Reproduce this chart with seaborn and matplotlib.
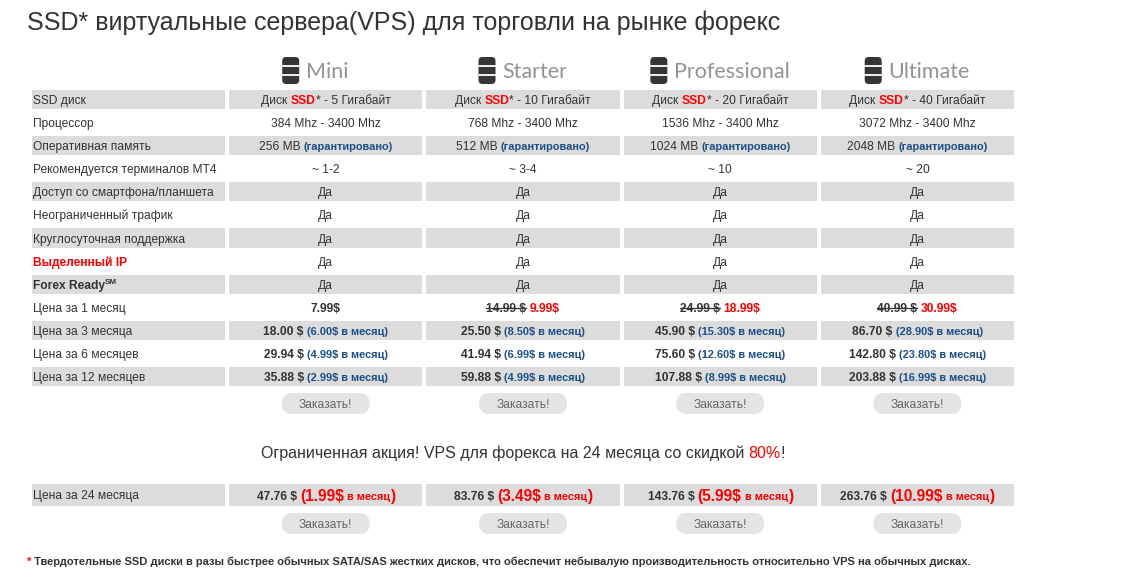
import matplotlib
matplotlib.use('Agg')
import matplotlib.pyplot as plt
from matplotlib.colors import ListedColormap
from matplotlib.patches import FancyBboxPatch
from matplotlib.font_manager import FontProperties
import seaborn as sns
import numpy as np

# ---- data ----
plans = ['Mini', 'Starter', 'Professional', 'Ultimate']
row_labels = ['SSD диск', 'Процессор', 'Оперативная память', 'Рекомендуется терминалов МТ4',
              'Доступ со смартфона/планшета', 'Неограниченный трафик', 'Круглосуточная поддержка',
              'Выделенный IP', 'Forex Ready', 'Цена за 1 месяц', 'Цена за 3 месяца',
              'Цена за 6 месяцев', 'Цена за 12 месяцев']
disk_gb = [5, 10, 20, 40]
cpu_mhz = [384, 768, 1536, 3072]
cpu_max = 3400
ram_mb = [256, 512, 1024, 2048]
mt4_terminals = ['1-2', '3-4', '10', '20']
yes_text = 'Да'
price_1m_old = [None, 14.99, 24.99, 40.99]
price_1m = [7.99, 9.99, 18.99, 30.99]
price_3m = [18.00, 25.50, 45.90, 86.70]
per_month_3m = [6.00, 8.50, 15.30, 28.90]
price_6m = [29.94, 41.94, 75.60, 142.80]
per_month_6m = [4.99, 6.99, 12.60, 23.80]
price_12m = [35.88, 59.88, 107.88, 203.88]
per_month_12m = [2.99, 4.99, 8.99, 16.99]
price_24m = [47.76, 83.76, 143.76, 263.76]
per_month_24m = [1.99, 3.49, 5.99, 10.99]
discount = 80

title = 'SSD* виртуальные сервера(VPS) для торговли на рынке форекс'
promo = 'Ограниченная акция! VPS для форекса на 24 месяца со скидкой '
footnote = (' Твердотельные SSD диски в разы быстрее обычных SATA/SAS жестких дисков, что обеспечит '
            'небывалую производительность относительно VPS на обычных дисках.')
order_text = 'Заказать!'

# ---- look ----
W, H = 1141, 577
PX = 0.72  # pixel -> point at dpi 100
DARK, RED, BLUE, GRAY = '#333333', '#ff0000', '#1b4f8a', '#dcdcdc'
FAM = ['Liberation Sans', 'DejaVu Sans']

sns.set_style('white')
plt.rcParams['font.family'] = FAM

fig = plt.figure(figsize=(W / 100, H / 100), dpi=100)
renderer = fig.canvas.get_renderer()

# table geometry in pixels
tx, ty, tw, row_h = 30, 88, 986, 23.08
ncol = 5
cw = tw / ncol


def fig_rect(x, y, w, h):
    return [x / W, 1 - (y + h) / H, w / W, h / H]


# striped main table
grid = fig.add_axes(fig_rect(tx, ty, tw, row_h * len(row_labels)))
stripes = np.array([[1 - r % 2] * ncol for r in range(len(row_labels))])
sns.heatmap(stripes, ax=grid, cmap=ListedColormap(['#ffffff', GRAY]), vmin=0, vmax=1,
            cbar=False, linewidths=1.6, linecolor='white', xticklabels=False, yticklabels=False)

# 24 month table
grid24 = fig.add_axes(fig_rect(tx, 482, tw, 26))
sns.heatmap(np.ones((1, ncol)), ax=grid24, cmap=ListedColormap([GRAY]), vmin=0, vmax=1,
            cbar=False, linewidths=1.6, linecolor='white', xticklabels=False, yticklabels=False)

# page overlay in pixel coordinates
pg = fig.add_axes([0, 0, 1, 1])
pg.set_xlim(0, W)
pg.set_ylim(H, 0)
pg.axis('off')
pg.patch.set_visible(False)


def fp(size=12, weight='normal', family=None):
    return FontProperties(family=family or FAM, size=size * PX, weight=weight)


def adv(s, prop):
    w0 = renderer.get_text_width_height_descent('||', prop, ismath=False)[0]
    w1 = renderer.get_text_width_height_descent('|' + s + '|', prop, ismath=False)[0]
    return w1 - w0


def rich(x, y, parts, ha='center'):
    props = [fp(st['size'], st['weight']) for _, st in parts]
    widths = [adv(s, p) for (s, _), p in zip(parts, props)]
    x0 = x - sum(widths) / 2 if ha == 'center' else x
    for (s, st), p, w in zip(parts, props, widths):
        pg.text(x0, y - st.get('dy', 0), s, fontproperties=p, color=st['color'],
                ha='left', va='baseline')
        if st.get('strike'):
            ys = y - st['size'] * 0.33
            pg.plot([x0, x0 + adv(s.rstrip(), p)], [ys, ys], color=st['color'], lw=0.9)
        x0 += w


N = dict(size=12, weight='normal', color=DARK)
B = dict(size=12, weight='bold', color=DARK)
BS = dict(size=12, weight='bold', color=DARK, strike=True)
RB = dict(size=12, weight='bold', color=RED)
BL = dict(size=11, weight='bold', color=BLUE)
SUP = dict(size=8, weight='bold', color=DARK, dy=5)


def cell_parts(r, i):
    if r == 0:
        return [('Диск ', N), ('SSD', RB), (f'* - {disk_gb[i]} Гигабайт', N)]
    if r == 1:
        return [(f'{cpu_mhz[i]} Mhz - {cpu_max} Mhz', N)]
    if r == 2:
        return [(f'{ram_mb[i]} MB ', N), ('(гарантировано)', BL)]
    if r == 3:
        return [(f'~ {mt4_terminals[i]}', N)]
    if r <= 8:
        return [(yes_text, N)]
    if r == 9:
        if price_1m_old[i] is None:
            return [(f'{price_1m[i]:.2f}$', B)]
        return [(f'{price_1m_old[i]:.2f} $', BS), (' ', B), (f'{price_1m[i]:.2f}$', RB)]
    price, per = {10: (price_3m, per_month_3m), 11: (price_6m, per_month_6m),
                  12: (price_12m, per_month_12m)}[r]
    return [(f'{price[i]:.2f} $ ', B), (f'({per[i]:.2f}$ в месяц)', BL)]


def label_parts(r):
    if r == 7:
        return [(row_labels[r], RB)]
    if r == 8:
        return [(row_labels[r], B), ('SM', SUP)]
    return [(row_labels[r], N)]


for r in range(len(row_labels)):
    yb = ty + (r + 0.5) * row_h + 4.5
    rich(tx + 3, yb, label_parts(r), ha='left')
    for i in range(len(plans)):
        rich(tx + (i + 1.5) * cw, yb, cell_parts(r, i))

# title
pg.text(27, 30, title, fontproperties=fp(25), color=DARK, ha='left', va='baseline')

# plan headers with server icons
name_prop = FontProperties(family=['Lato', 'DejaVu Sans'], weight='normal', size=21.5 * PX)
for i, name in enumerate(plans):
    col_left = tx + (i + 1) * cw
    center = col_left + cw / 2
    gw = 17 + 7 + adv(name, name_prop)
    left = min(col_left + 55, center - gw / 2)
    pg.add_patch(FancyBboxPatch((left, 57), 17, 27, boxstyle='round,pad=0,rounding_size=4',
                                fc='#353535', ec='none'))
    for yl in (66, 75):
        pg.plot([left, left + 17], [yl, yl], color='white', lw=1.3)
    pg.text(left + 24, 78, name, fontproperties=name_prop, color='#939393', ha='left', va='baseline')


def button(cx, cy):
    pg.add_patch(FancyBboxPatch((cx - 44, cy - 10.5), 88, 21,
                                boxstyle='round,pad=0,rounding_size=10.5', fc='#e4e4e4', ec='none'))
    pg.text(cx, cy + 4.5, order_text, fontproperties=fp(12), color='#666666', ha='center', va='baseline')


for i in range(len(plans)):
    button(tx + (i + 1.5) * cw, 403.5)
    button(tx + (i + 1.5) * cw, 523.5)

# promo line
rich(tx + tw / 2, 458, [(promo, dict(size=16, weight='normal', color=DARK)),
                        (f'{discount}%', dict(size=16, weight='normal', color=RED)),
                        ('!', dict(size=16, weight='normal', color=DARK))])

# 24 month row
rich(tx + 3, 498.5, [('Цена за 24 месяца', N)], ha='left')
R16 = dict(size=15.5, weight='bold', color=RED)
R11 = dict(size=11, weight='bold', color=RED)
for i in range(len(plans)):
    rich(tx + (i + 1.5) * cw, 500.5,
         [(f'{price_24m[i]:.2f} $ ', B), (f'({per_month_24m[i]:.2f}$', R16),
          (' в месяц', R11), (')', R16)])

# footnote
rich(27, 565, [('*', dict(size=11.1, weight='bold', color=RED)),
               (footnote, dict(size=11.1, weight='bold', color=DARK))], ha='left')

fig.savefig('out.png', dpi=100)
